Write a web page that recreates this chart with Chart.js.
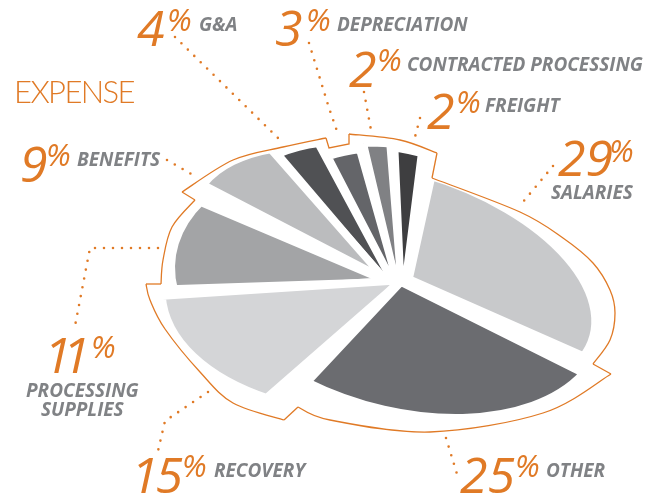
<!DOCTYPE html>
<html>
<head>
<meta charset="utf-8">
<title>Expense</title>
<script src="https://cdn.jsdelivr.net/npm/chart.js@4/dist/chart.umd.min.js"></script>
<style>
  html, body { margin: 0; background: #fff; }
  canvas { display: block; }
</style>
</head>
<body>
<canvas id="expense-chart" width="655" height="494"></canvas>
<script>
// data, clockwise from the top
const categories = ['SALARIES', 'OTHER', 'RECOVERY', 'PROCESSING SUPPLIES', 'BENEFITS', 'G&A', 'DEPRECIATION', 'CONTRACTED PROCESSING', 'FREIGHT'];
const expenseValues = [29, 25, 15, 11, 9, 4, 3, 2, 2];

// slice styling
const sliceColors = ['#c8c9cb', '#6b6c70', '#d4d5d7', '#a3a4a6', '#bbbcbe', '#505154', '#646569', '#808184', '#3e3e40'];
const sliceGaps = [26, 12, 14, 14, 13, 9.3, 9.7, 8, 8];
const drawOrder = [0, 8, 7, 6, 5, 4, 3, 2, 1];

// the pie is drawn in perspective: each slice gets its own unit circle -> screen mapping
const sliceCenters = [[402, 278], [399.5, 282], [404, 280], [390, 282], [384, 278], [399, 295], [401, 297], [403, 310], [402, 308]];
const sliceAxisX = [[188, 55], [197, 63], [225, 34], [210, 42], [191, 60], [181, 44], [171, 14], [206, 38], [206, 53]];
const sliceAxisY = [[-22, 100], [-43, 116], [-79, 128], [-46, 125], [-15, 113], [3, 143], [-2, 145], [-13, 159], [-19, 151]];

const ORANGE = '#e07a26';
const GREY = '#808285';

// value label anchors: number x, number baseline, percent x, percent baseline, number tracking
const valueAnchors = [
  [558, 176, 609, 162, 0],
  [460, 493, 515, 477, 0],
  [131, 493, 182, 477, -3],
  [44, 373, 91, 358, -9],
  [20, 182, 46, 166, 0],
  [137, 46, 167, 31, 0],
  [275, 46, 306, 31, 0],
  [349, 87, 377, 71, 0],
  [427, 129, 456, 113, 0],
];
// category label lines: text, x, baseline
const labelLines = [
  ['SALARIES', 551, 199],
  ['OTHER', 546, 477],
  ['RECOVERY', 214, 477],
  ['PROCESSING', 26, 397],
  ['SUPPLIES', 41, 416],
  ['BENEFITS', 77, 166],
  ['G&A', 199, 31],
  ['DEPRECIATION', 337, 31],
  ['CONTRACTED PROCESSING', 407, 71],
  ['FREIGHT', 485, 112],
];

const leaders = [
  [[553, 166], [523, 202]],
  [[446, 438], [457, 474]],
  [[208, 392], [165, 421], [158, 451]],
  [[158, 248], [90, 248], [75, 326]],
  [[167, 160], [193, 175]],
  [[175, 37], [279, 139]],
  [[309, 43], [329, 108], [339, 137]],
  [[364, 92], [371, 130]],
  [[420, 118], [415, 137]],
];

const outlineCurves = [
  [[432, 178], [520, 212], [563, 238], [593, 263], [610, 290], [615, 313], [610, 340], [593, 364]],
  [[611, 374], [543, 413], [430, 432], [330, 420], [298, 407]],
  [[284, 420], [233, 403], [200, 372], [165, 329], [150, 300], [146, 284]],
  [[161, 284], [163, 260], [172, 227], [195, 200]],
  [[182, 192], [233, 160], [283, 147], [326, 138]],
  [[349, 134], [400, 140], [437, 153]],
];
const outlineLinks = [
  [[593, 364], [611, 374]],
  [[298, 407], [284, 420]],
  [[146, 284], [161, 284]],
  [[195, 200], [182, 192]],
  [[326, 138], [329, 148], [349, 144], [349, 134]],
  [[437, 153], [432, 178]],
];

function polyline(ctx, pts) {
  ctx.beginPath();
  ctx.moveTo(pts[0][0], pts[0][1]);
  pts.slice(1).forEach((p) => ctx.lineTo(p[0], p[1]));
  ctx.stroke();
}

// Catmull-Rom through the points
function curve(ctx, pts) {
  ctx.beginPath();
  ctx.moveTo(pts[0][0], pts[0][1]);
  for (let i = 0; i < pts.length - 1; i++) {
    const p0 = pts[Math.max(i - 1, 0)];
    const p1 = pts[i];
    const p2 = pts[i + 1];
    const p3 = pts[Math.min(i + 2, pts.length - 1)];
    ctx.bezierCurveTo(
      p1[0] + (p2[0] - p0[0]) / 6, p1[1] + (p2[1] - p0[1]) / 6,
      p2[0] - (p3[0] - p1[0]) / 6, p2[1] - (p3[1] - p1[1]) / 6,
      p2[0], p2[1]
    );
  }
  ctx.stroke();
}

const perspectivePlugin = {
  id: 'perspective',
  afterDatasetsUpdate(chart) {
    const meta = chart.getDatasetMeta(0);
    // the white gap eats half its width off the rim, so grow the slice by that much
    meta.data.forEach((arc, i) => {
      arc.outerRadius = meta.controller.outerRadius + sliceGaps[i] / 2;
    });
  },
  beforeDatasetDraw(chart) {
    const ctx = chart.ctx;
    const meta = chart.getDatasetMeta(0);
    const r = meta.controller.outerRadius;
    drawOrder.forEach((i) => {
      const arc = meta.data[i];
      ctx.save();
      ctx.transform(
        sliceAxisX[i][0] / r, sliceAxisX[i][1] / r,
        sliceAxisY[i][0] / r, sliceAxisY[i][1] / r,
        sliceCenters[i][0], sliceCenters[i][1]
      );
      ctx.translate(-arc.x, -arc.y);
      arc.draw(ctx);
      ctx.restore();
    });
    return false;
  },
};

const annotationPlugin = {
  id: 'annotations',
  afterDraw(chart) {
    const ctx = chart.ctx;
    ctx.save();

    // callout outline
    ctx.strokeStyle = ORANGE;
    ctx.lineWidth = 1.3;
    ctx.lineJoin = 'miter';
    outlineCurves.forEach((c) => curve(ctx, c));
    outlineLinks.forEach((l) => polyline(ctx, l));

    // dotted leaders
    ctx.lineWidth = 2.6;
    ctx.lineCap = 'round';
    ctx.setLineDash([0, 9]);
    leaders.forEach((l) => polyline(ctx, l));
    ctx.setLineDash([]);

    // text
    ctx.textAlign = 'left';
    ctx.textBaseline = 'alphabetic';
    ctx.fillStyle = ORANGE;
    ctx.font = '300 31px Lato';
    ctx.letterSpacing = '-1.6px';
    ctx.fillText('EXPENSE', 14, 103);
    ctx.letterSpacing = '0px';

    expenseValues.forEach((v, i) => {
      const a = valueAnchors[i];
      ctx.fillStyle = ORANGE;
      ctx.font = 'italic 500 50px "Open Sans"';
      ctx.letterSpacing = a[4] + 'px';
      ctx.fillText(String(v), a[0], a[1]);
      ctx.letterSpacing = '0px';
      ctx.font = 'italic 400 31px "Open Sans"';
      ctx.fillText('%', a[2], a[3]);
    });

    ctx.fillStyle = GREY;
    ctx.font = 'italic 700 19px "Open Sans"';
    labelLines.forEach((l) => ctx.fillText(l[0], l[1], l[2]));

    ctx.restore();
  },
};

new Chart(document.getElementById('expense-chart'), {
  type: 'pie',
  data: {
    labels: categories,
    datasets: [{
      data: expenseValues,
      backgroundColor: sliceColors,
      borderColor: '#ffffff',
      borderWidth: sliceGaps,
    }],
  },
  options: {
    responsive: false,
    animation: false,
    plugins: { legend: { display: false }, tooltip: { enabled: false } },
  },
  plugins: [perspectivePlugin, annotationPlugin],
});
</script>
</body>
</html>
